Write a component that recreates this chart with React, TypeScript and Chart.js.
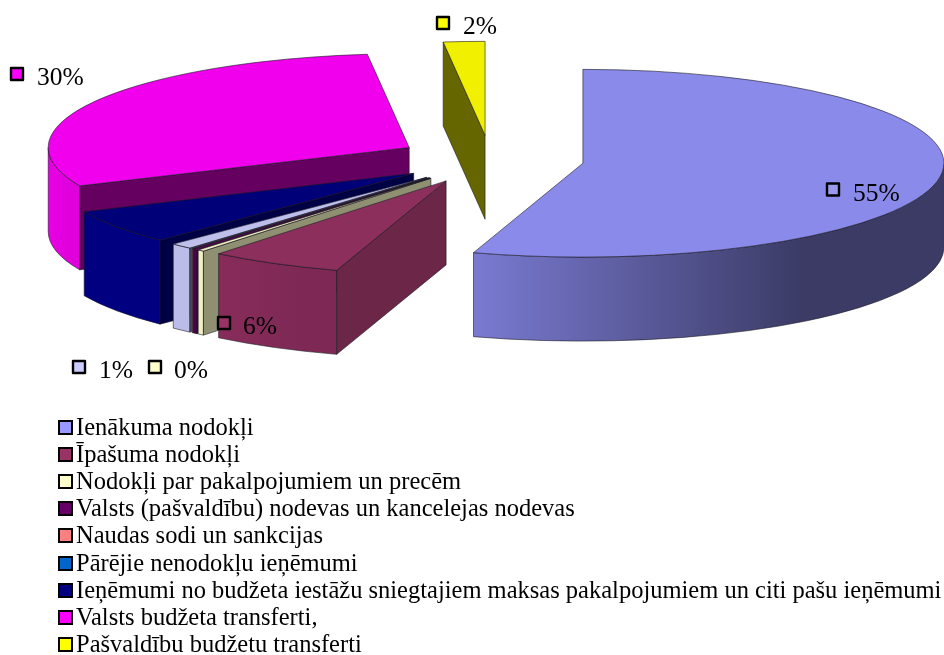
import React, { useEffect, useRef } from "react";
import { Chart, registerables } from "chart.js";

Chart.register(...registerables);

const categories = [
  "Ienākuma nodokļi",
  "Īpašuma nodokļi",
  "Nodokļi par pakalpojumiem un precēm",
  "Valsts (pašvaldību) nodevas un kancelejas nodevas",
  "Naudas sodi un sankcijas",
  "Pārējie nenodokļu ieņēmumi",
  "Ieņēmumi no budžeta iestāžu sniegtajiem maksas pakalpojumiem un citi pašu ieņēmumi",
  "Valsts budžeta transferti,",
  "Pašvaldību budžetu transferti",
];
const shares = [54.9, 5.95, 0.3, 0.2, 0.05, 1, 5.9, 29.85, 1.85];

const legendColors = ["#9999FF", "#993366", "#FFFFCC", "#660066", "#FF8080", "#0066CC", "#000080", "#FF00FF", "#FFFF00"];
const topColors = ["#8A8AEA", "#8C2F5C", "#F0F0C0", "#600060", "#F07878", "#BFBFEC", "#000078", "#F000EC", "#F0F000"];
const wallStart = ["#7A7AD2", "#882C5A", "#F0F0C4", "#500050", "#E07070", "#BCBCE8", "#000080", "#E800E4", "#F0F000"];
const wallEnd = ["#3B3B66", "#7E2955", "#F0F0C4", "#500050", "#E07070", "#BCBCE8", "#000080", "#E000DC", "#F0F000"];
const cutColors = ["#3B3B66", "#6B2648", "#8F8F72", "#3A003A", "#703838", "#50506E", "#000044", "#660060", "#666600"];

const labelSwatches = ["#9999EE", "#993366", "#FFFFCC", "#660066", "#FF8080", "#CCCCFF", "#000080", "#FF00FF", "#FFFF00"];
// Where each visible percentage label sits: slice index, key centre x, key centre y, text x.
const labelPlaces: [number, number, number, number][] = [
  [0, 833, 189.5, 853],
  [1, 224, 323, 243],
  [2, 155, 367, 174],
  [5, 79, 367, 99],
  [7, 17, 74, 37],
  [8, 443, 23, 463],
];

const RADIUS = 361;
const SQUASH = 0.26;
const EXPLODE = 93.5;
const DEPTH = 84;
const TAU = Math.PI * 2;
const EDGE = "rgba(25,25,35,0.85)";
const SERIF = '"Liberation Serif", "Times New Roman", serif';

const pie3d = {
  id: "pie3d",
  beforeDatasetDraw(chart: any) {
    const ctx = chart.ctx as CanvasRenderingContext2D;
    const arcs = chart.getDatasetMeta(0).data as any[];
    const order = arcs
      .map((el, i) => {
        const mid = (el.startAngle + el.endAngle) / 2;
        return {
          el,
          i,
          ox: el.x + EXPLODE * Math.cos(mid),
          oy: el.y + EXPLODE * Math.sin(mid) * SQUASH,
        };
      })
      .filter((s) => s.el.endAngle - s.el.startAngle > 0.0001)
      .sort((a, b) => a.oy - b.oy);

    ctx.save();
    ctx.lineWidth = 0.7;
    ctx.strokeStyle = EDGE;
    ctx.lineJoin = "round";

    for (const { el, i, ox, oy } of order) {
      const r = el.outerRadius;
      const ry = r * SQUASH;
      const s = el.startAngle;
      const e = el.endAngle;

      // outer wall: only the part of the rim on the near side
      for (const shift of [0, TAU, -TAU]) {
        const a1 = Math.max(s + shift, 0);
        const a2 = Math.min(e + shift, Math.PI);
        if (a2 <= a1) continue;
        const xA = ox + r * Math.cos(a1);
        const xB = ox + r * Math.cos(a2);
        const g = ctx.createLinearGradient(Math.min(xA, xB), 0, Math.max(xA, xB), 0);
        g.addColorStop(0, wallStart[i]);
        g.addColorStop(0.7, wallEnd[i]);
        g.addColorStop(1, wallEnd[i]);
        ctx.beginPath();
        ctx.ellipse(ox, oy, r, ry, 0, a1, a2);
        ctx.ellipse(ox, oy + DEPTH, r, ry, 0, a2, a1, true);
        ctx.closePath();
        ctx.fillStyle = g;
        ctx.fill();
        ctx.stroke();
      }

      // radial cut faces that turn towards the viewer
      const faces: number[] = [];
      if (-Math.cos(s) > 0.001) faces.push(s);
      if (Math.cos(e) > 0.001) faces.push(e);
      for (const a of faces) {
        const rx0 = ox + r * Math.cos(a);
        const ry0 = oy + ry * Math.sin(a);
        ctx.beginPath();
        ctx.moveTo(ox, oy);
        ctx.lineTo(rx0, ry0);
        ctx.lineTo(rx0, ry0 + DEPTH);
        ctx.lineTo(ox, oy + DEPTH);
        ctx.closePath();
        ctx.fillStyle = cutColors[i];
        ctx.fill();
        ctx.stroke();
      }

      // top face
      ctx.beginPath();
      ctx.moveTo(ox, oy);
      ctx.ellipse(ox, oy, r, ry, 0, s, e);
      ctx.closePath();
      ctx.fillStyle = el.options.backgroundColor;
      ctx.fill();
      ctx.stroke();
    }

    // percentage labels with their keys
    ctx.font = `25.5px ${SERIF}`;
    ctx.textBaseline = "alphabetic";
    ctx.textAlign = "left";
    const total = shares.reduce((a, b) => a + b, 0);
    for (const [i, kx, ky, tx] of labelPlaces) {
      ctx.fillStyle = labelSwatches[i];
      ctx.strokeStyle = "#000";
      ctx.lineWidth = 2.4;
      ctx.beginPath();
      ctx.rect(kx - 6, ky - 6, 12, 12);
      ctx.fill();
      ctx.stroke();
      ctx.fillStyle = "#000";
      ctx.fillText(`${Math.round((shares[i] / total) * 100)}%`, tx, ky + 11);
    }
    ctx.restore();
    return false;
  },
};

export default function App() {
  const ref = useRef<HTMLCanvasElement>(null);
  useEffect(() => {
    const chart = new Chart(ref.current!, {
      type: "pie",
      data: {
        labels: categories,
        datasets: [{ data: shares, backgroundColor: topColors, borderWidth: 0 }],
      },
      options: {
        responsive: false,
        animation: false,
        radius: RADIUS,
        layout: { padding: { left: 37, bottom: 336 } },
        plugins: { legend: { display: false }, tooltip: { enabled: false } },
      } as any,
      plugins: [pie3d],
    });
    return () => chart.destroy();
  }, []);

  return (
    <div style={{ position: "fixed", left: 0, top: 0, width: 944, height: 655, background: "#fff", overflow: "hidden" }}>
      <canvas ref={ref} width={944} height={655} style={{ position: "absolute", left: 0, top: 0 }} />
      {categories.map((c, i) => (
        <div
          key={c}
          style={{
            position: "absolute",
            left: 0,
            top: 413 + i * 27.1,
            height: 27,
            lineHeight: "27px",
            whiteSpace: "nowrap",
            fontFamily: SERIF,
            fontSize: 24.5,
            color: "#000",
          }}
        >
          <span
            style={{
              position: "absolute",
              left: 58,
              top: 7,
              width: 11,
              height: 11,
              background: legendColors[i],
              border: "2px solid #000",
            }}
          />
          <span style={{ position: "absolute", left: 76, top: 0 }}>{c}</span>
        </div>
      ))}
    </div>
  );
}
